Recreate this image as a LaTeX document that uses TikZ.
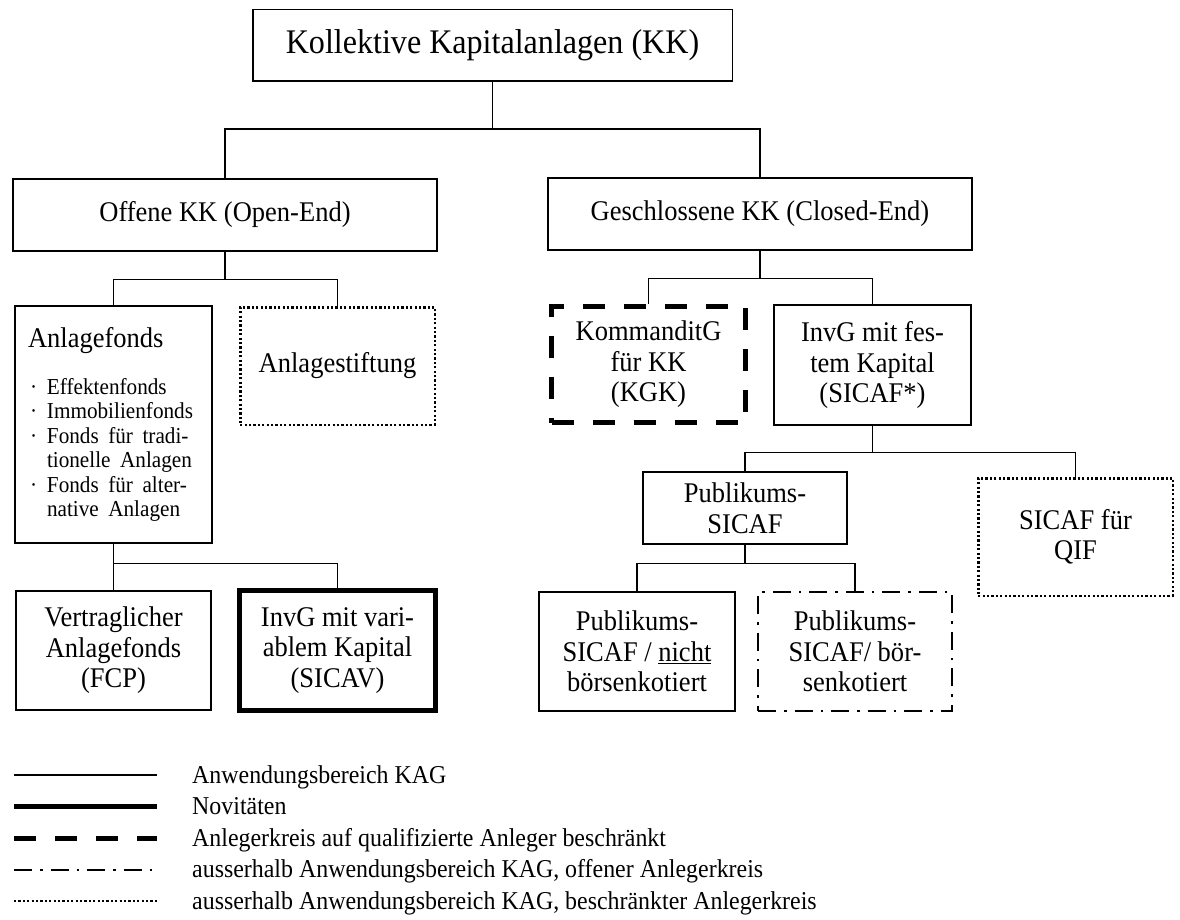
\documentclass[tikz,border=0pt]{standalone}
\usepackage{fontspec}
\setmainfont{Liberation Serif}[FakeStretch=0.93]
\usetikzlibrary{positioning}
\newcommand{\punkt}{\makebox[19pt][l]{\hspace{2pt}\textperiodcentered}}
\newcommand{\einzug}{\hspace*{19pt}}
\newcommand{\boxfont}{\fontsize{28.5}{30.5}\selectfont}
\newcommand{\itemfont}{\fontsize{22.8}{24.5}\selectfont}
\tikzset{
    block/.style = {draw, rectangle, line width=1.5pt, inner sep=0pt,
        minimum width=197pt, minimum height=120pt, align=center, font=\boxfont},
    kag/.style = {line width=2pt},
    novum/.style = {line width=4.5pt},
    qual/.style = {line width=5pt, dash pattern=on 22pt off 19pt},
    openkreis/.style = {line width=2pt, dash pattern=on 18pt off 8pt on 2.5pt off 8pt},
    closedkreis/.style = {line width=2.5pt, dash pattern=on 2.2pt off 2.2pt},
    link/.style = {draw, line width=1.2pt},
    legtext/.style = {anchor=base west, inner sep=0pt, font=\fontsize{25.7}{28}\selectfont}
}

\begin{document}
\begin{tikzpicture}[x=1pt, y=-1pt]
        \useasboundingbox (0,0) rectangle (1180,920);
        % top levels
        \node [block, minimum width=479.5pt, minimum height=71.5pt, font=\fontsize{34.5}{40}\selectfont] (kk) at (492.5,45.5) {Kollektive Kapitalanlagen (KK)};
        \node [block, minimum width=424pt, minimum height=72pt] (offen) at (225,215) {Offene KK (Open-End)};
        \node [block, minimum width=424pt, minimum height=72pt] (geschl) at (760,214) {Geschlossene KK (Closed-End)};
        % open-end
        \node [block, align=left, text width=171pt, inner xsep=13pt, minimum height=237pt] (fonds) at (113.5,424.5) {Anlagefonds\par\vspace{22.5pt}\itemfont
            \mbox{\punkt Effektenfonds}\\ \mbox{\punkt Immobilienfonds}\\ \mbox{\punkt Fonds für tradi-}\\ \mbox{\einzug tionelle Anlagen}\\
            \mbox{\punkt Fonds für alter-}\\ \mbox{\einzug native Anlagen}\par\vspace*{14pt}};
        \node [block, closedkreis, minimum width=194.5pt, minimum height=117.5pt] (stiftung) at (337.5,366) {Anlagestiftung};
        \node [block, kag, minimum width=195pt, minimum height=119pt] (fcp) at (113.5,650.5) {Vertraglicher\\Anlagefonds\\(FCP)};
        \node [block, novum, minimum width=196pt] (sicav) at (337.5,650.5) {InvG mit vari-\\ablem Kapital\\(SICAV)};
        % closed-end
        \node [block, qual, minimum width=194pt, minimum height=116pt] (kgk) at (648.5,364.5) {KommanditG\\für KK\\(KGK)};
        \node [block] (invg) at (872.5,365) {InvG mit fes-\\tem Kapital\\(SICAF*)};
        \node [block, minimum width=204pt, minimum height=72pt] (pubsicaf) at (745,508) {Publikums-\\SICAF};
        \node [block, closedkreis, minimum width=194.5pt, minimum height=117.5pt] (qif) at (1075.5,537) {SICAF für\\QIF};
        \node [block, kag, minimum width=196pt, minimum height=119pt] (nicht) at (637,651.5) {Publikums-\\SICAF / \underline{nicht}\\börsenkotiert};
        \node [block, openkreis, minimum width=194pt, minimum height=119pt] (boersen) at (855,651.5) {Publikums-\\SICAF/ bör-\\senkotiert};

        \foreach \p/\a/\b/\d in {kk/offen/geschl/47, offen/fonds/stiftung/28, geschl/kgk/invg/28,
            fonds/fcp/sicav/20, invg/pubsicaf/qif/27, pubsicaf/nicht/boersen/19}{
            \draw [link] (\p.south) -- ++(0,\d) -| (\a.north);
            \draw [link] (\p.south) -- ++(0,\d) -| (\b.north);
        }

        % legend
        \foreach \st/\txt [count=\i] in {kag/Anwendungsbereich KAG, novum/Novitäten,
            qual/Anlegerkreis auf qualifizierte Anleger beschränkt,
            openkreis/{ausserhalb Anwendungsbereich KAG, offener Anlegerkreis},
            closedkreis/{ausserhalb Anwendungsbereich KAG, beschränkter Anlegerkreis}}{
            \pgfmathsetmacro{\ly}{743.5+31.5*\i}
            \coordinate (lega\i) at (14,\ly);
            \coordinate (legb\i) at (157,\ly);
            \draw [\st] (lega\i) -- (legb\i);
            \node [legtext] (legtxt\i) at (192,\ly+8) {\txt};
        }
\end{tikzpicture}
\end{document}
